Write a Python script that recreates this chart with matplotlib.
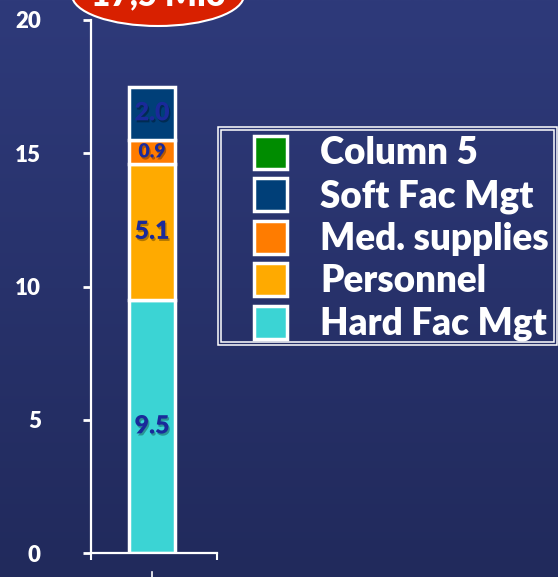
import matplotlib
matplotlib.use("Agg")
import matplotlib.pyplot as plt
import matplotlib.patheffects as pe
import numpy as np
from matplotlib.patches import Ellipse, Rectangle

# stacked cost components (bottom -> top), in Mio
segments = ["Hard Fac Mgt", "Personnel", "Med. supplies", "Soft Fac Mgt", "Column 5"]
values = [9.5, 5.1, 0.9, 2.0, 0.0]
value_labels = ["9.5", "5.1", "0.9", "2.0", ""]
colors = ["#3bd4d4", "#ffaa00", "#ff7c00", "#003f78", "#008c00"]
yticks = [0, 5, 10, 15, 20]
total_label = "17,5 Mio"

W, H = 558, 577
plt.rcParams["font.family"] = ["Lato", "DejaVu Sans"]
plt.rcParams["font.weight"] = "bold"


def fx(px):
    return px / W


def fy(py):
    return 1 - py / H


fig = plt.figure(figsize=(W / 100, H / 100), dpi=100)

# background gradient
bg = fig.add_axes([0, 0, 1, 1], zorder=0)
top = np.array([46, 58, 122]) / 255
bot = np.array([33, 42, 92]) / 255
t = np.linspace(0, 1, 256)[:, None]
grad = top[None, :] * (1 - t) + bot[None, :] * t
bg.imshow(grad[:, None, :], aspect="auto", extent=[0, 1, 0, 1])
bg.axis("off")

# main chart
ax = fig.add_axes([fx(91), fy(553), fx(217) - fx(91), fy(20) - fy(553)], zorder=1)
ax.patch.set_visible(False)
ax.set_xlim(-0.484, 0.516)
ax.set_ylim(0, 20)
bottom = 0.0
for v, lab, c in zip(values, value_labels, colors):
    if v <= 0:
        continue
    ax.bar(0, v, width=0.365, bottom=bottom, color=c, edgecolor="white", linewidth=2.5)
    ax.text(0, bottom + v / 2, lab, ha="center", va="center", color="#1a2a9a",
            fontsize=14 if v < 1.5 else 18, fontweight="heavy",
            path_effects=[pe.SimplePatchShadow(offset=(1, -1.5), shadow_rgbFace="black", alpha=0.3),
                          pe.Normal()])
    bottom += v

ax.set_yticks(yticks)
ax.set_yticklabels([str(v) for v in yticks], fontweight="heavy", fontsize=16)
ax.tick_params(axis="y", colors="white", length=6, width=2, pad=30)
ax.set_xticks([-0.484, 0.516])
ax.set_xticklabels([])
ax.tick_params(axis="x", colors="white", length=5, width=1.5)
ax.axvline(0, ymin=-0.045, ymax=-0.035, color="white", lw=1.2, clip_on=False)
for s in ["top", "right"]:
    ax.spines[s].set_visible(False)
for s in ["left", "bottom"]:
    ax.spines[s].set_color("white")
    ax.spines[s].set_linewidth(1.6)

# decoration layer in pixel coords: legend box + total bubble
deco = fig.add_axes([0, 0, 1, 1], zorder=2)
deco.set_xlim(0, W)
deco.set_ylim(H, 0)
deco.axis("off")
deco.patch.set_visible(False)

deco.add_patch(Rectangle((218, 127), 339, 218, fill=False, ec="white", lw=1.1))
deco.add_patch(Rectangle((221, 130), 333, 212, fill=False, ec="white", lw=1.1))
row_y0, row_dy = 152, 42.6
for i, (name, c) in enumerate(zip(segments[::-1], colors[::-1])):
    yc = row_y0 + i * row_dy
    deco.add_patch(Rectangle((253.5, yc - 16.5), 33, 33, fc=c, ec="white", lw=2.5))
    deco.text(320, yc + 12.5, name, ha="left", va="baseline", color="white",
              fontsize=26.5, fontweight="heavy")

deco.add_patch(Ellipse((158, -5), 172, 62, fc="#d82000", ec="white", lw=1.5))
deco.text(158, 5, total_label, ha="center", va="baseline", color="white",
          fontsize=24, fontweight="heavy")

fig.savefig("out.png", dpi=100)
